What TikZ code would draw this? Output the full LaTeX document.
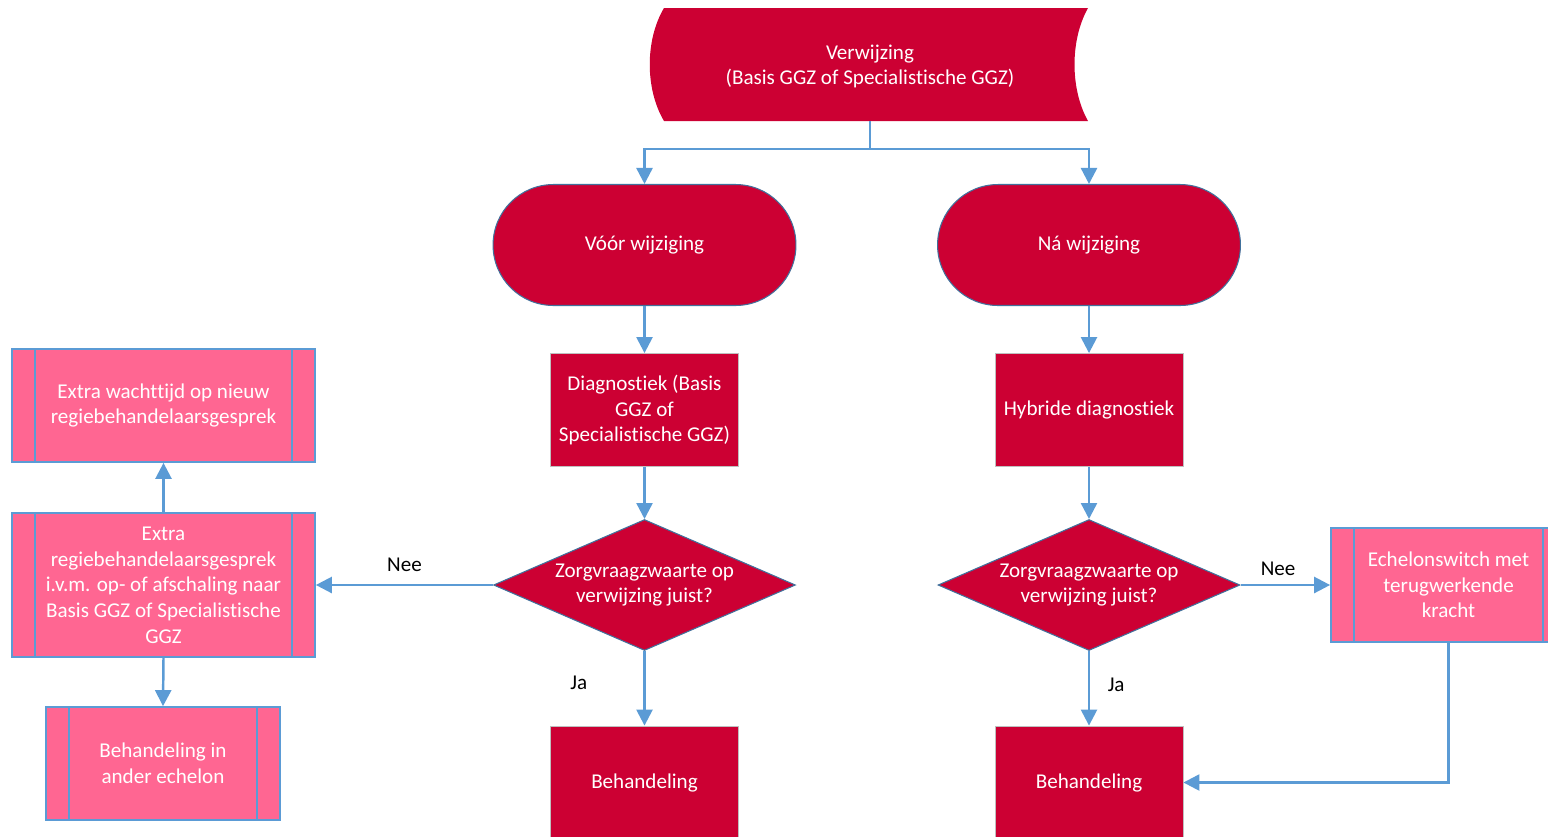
\documentclass[tikz,border=0pt]{standalone}
\usepackage{fontspec}
\setmainfont{Carlito}[Ligatures=NoCommon]
\usetikzlibrary{shapes,arrows.meta,positioning}
\definecolor{crimson}{HTML}{CC0033}
\definecolor{roze}{HTML}{FF6692}
\definecolor{lijnblauw}{HTML}{5B9BD5}
\definecolor{randblauw}{HTML}{41719C}

\begin{document}
\begin{tikzpicture}[  x=0.02cm,  y=-0.02cm,  font=\fontsize{12}{14.6}\selectfont,  every node/.style={align=center, text=white, inner sep=2pt},  stadium/.style={rounded rectangle, fill=crimson, draw=randblauw, line width=0.6pt, minimum width=6.2cm, minimum height=2.42cm},  proces/.style={rectangle, fill=crimson, draw=black!25, line width=0.5pt, minimum width=3.76cm, minimum height=2.26cm},  keuze/.style={diamond, aspect=2.3, fill=crimson, draw=randblauw, line width=0.6pt, minimum width=6.04cm, minimum height=2.62cm, inner sep=0pt},  deelproces/.style={rectangle, fill=roze, draw=lijnblauw, line width=1pt, minimum height=2.26cm,    path picture={\draw[lijnblauw, line width=1pt]      ([xshift=0.46cm]path picture bounding box.north west) -- ([xshift=0.46cm]path picture bounding box.south west)      ([xshift=-0.46cm]path picture bounding box.north east) -- ([xshift=-0.46cm]path picture bounding box.south east);}},  verbinding/.style={draw=lijnblauw, line width=1.4pt, -{Triangle[width=0.32cm,length=0.32cm]}},  antwoord/.style={text=black},  ]

  \useasboundingbox (0,0) rectangle (1548,836);

  \fill[crimson] (664,8) .. controls (645,40) and (645,89) .. (664,121) -- (1088,121) .. controls (1070,89) and (1070,40) .. (1088,8) -- cycle;
  \node[minimum width=8.5cm, minimum height=2.18cm] (verwijzing) at (870,66.5) {Verwijzing\\(Basis GGZ of Specialistische GGZ)};

  \node[stadium] (voor) at (644.5,245) {Vóór wijziging};
  \node[stadium] (na) at (1089,245) {Ná wijziging};

  \node[proces] (diag) at (644.5,410) {Diagnostiek (Basis\\GGZ of\\Specialistische GGZ)};
  \node[proces] (hybride) at (1089,410) {Hybride diagnostiek};

  \node[keuze] (vraagL) at (644.5,585) {Zorgvraagzwaarte op\\verwijzing juist?};
  \node[keuze] (vraagR) at (1089,585) {Zorgvraagzwaarte op\\verwijzing juist?};

  \node[proces] (behL) at (644.5,782.5) {Behandeling};
  \node[proces] (behR) at (1089,782.5) {Behandeling};

  \node[deelproces, minimum width=6.06cm, minimum height=2.88cm] (extra) at (163.5,585) {Extra\\regiebehandelaarsgesprek\\i.v.m. op- of afschaling naar\\Basis GGZ of Specialistische\\GGZ};
  \node[deelproces, minimum width=6.06cm] (wacht) at (163.5,405.5) {Extra wachttijd op nieuw\\regiebehandelaarsgesprek};
  \node[deelproces, minimum width=4.68cm] (ander) at (163,763.5) {Behandeling in\\ander echelon};
  \node[deelproces, minimum width=4.7cm, minimum height=2.28cm] (echelon) at (1448.5,585) {Echelonswitch met\\terugwerkende\\kracht};

  \coordinate (splits) at (870,149);
  \draw[verbinding] (verwijzing.south) -- (splits) -| (voor.north);
  \draw[verbinding] (splits) -| (na.north);
  \draw[verbinding] (voor.south) -- (diag.north);
  \draw[verbinding] (na.south) -- (hybride.north);
  \draw[verbinding] (diag.south) -- (vraagL.north);
  \draw[verbinding] (hybride.south) -- (vraagR.north);
  \draw[verbinding] (vraagL.west) -- node[antwoord, above=0.18cm] {Nee} (extra.east);
  \draw[verbinding] (vraagL.south) -- node[antwoord, left=1.05cm, pos=0.43] {Ja} (behL.north);
  \draw[verbinding] (extra.north) -- (wacht.south);
  \draw[verbinding] (extra.south) -- (ander.north);
  \draw[verbinding] (vraagR.east) -- node[antwoord, above=0.1cm, pos=0.42] {Nee} (echelon.west);
  \draw[verbinding] (vraagR.south) -- node[antwoord, right=0.28cm, pos=0.45] {Ja} (behR.north);
  \draw[verbinding] (echelon.south) |- (behR.east);
\end{tikzpicture}
\end{document}
